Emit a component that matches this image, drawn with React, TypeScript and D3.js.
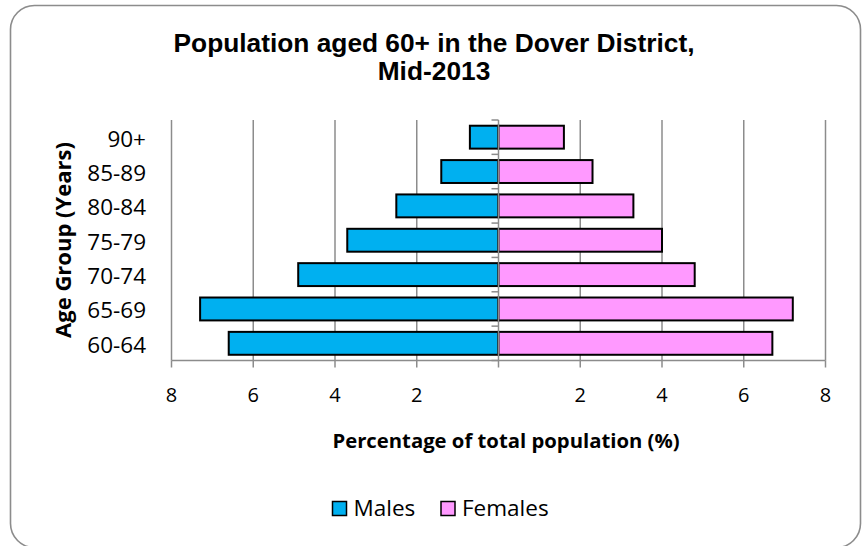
import React from "react";
import * as d3 from "d3";

const categories = ["60-64", "65-69", "70-74", "75-79", "80-84", "85-89", "90+"];
const males = [6.6, 7.3, 4.9, 3.7, 2.5, 1.4, 0.7];
const females = [6.7, 7.2, 4.8, 4.0, 3.3, 2.3, 1.6];
const xTicks = [-8, -6, -4, -2, 0, 2, 4, 6, 8];
const seriesNames = ["Males", "Females"];
const seriesColors = ["#00B0F0", "#FF99FF"];

const W = 867;
const H = 546;
const plotLeft = 171.5;
const plotRight = 825.5;
const plotTop = 120;
const plotBottom = 360.5;
const labelFont = "'Open Sans', sans-serif";

export default function App() {
  const x = d3.scaleLinear().domain([-8, 8]).range([plotLeft, plotRight]);
  const y = d3
    .scaleBand<string>()
    .domain([...categories].reverse())
    .range([plotTop, plotBottom])
    .padding(0);
  const step = y.step();
  const barH = step / 1.5;
  const cx = x(0);

  return (
    <svg
      width={W}
      height={H}
      style={{ position: "absolute", left: 0, top: 0, background: "#fff" }}
    >
      <rect
        x={10.5}
        y={5.5}
        width={850}
        height={542}
        rx={24}
        ry={24}
        fill="#fff"
        stroke="#8c8c8c"
        strokeWidth={1.6}
      />
      <text
        x={434}
        y={52}
        textAnchor="middle"
        fontFamily="'Liberation Sans', Arial, sans-serif"
        fontWeight="bold"
        fontSize={26.3}
        fill="#000"
      >
        Population aged 60+ in the Dover District,
      </text>
      <text
        x={434}
        y={80}
        textAnchor="middle"
        fontFamily="'Liberation Sans', Arial, sans-serif"
        fontWeight="bold"
        fontSize={26.3}
        fill="#000"
      >
        Mid-2013
      </text>

      {/* gridlines */}
      {xTicks
        .filter((t) => t !== 0)
        .map((t) => (
          <line
            key={"g" + t}
            x1={x(t)}
            x2={x(t)}
            y1={plotTop}
            y2={plotBottom}
            stroke="#8c8c8c"
            strokeWidth={1.5}
          />
        ))}

      {/* bars */}
      {categories.map((c, i) => {
        const yy = (y(c) as number) + (step - barH) / 2;
        return (
          <g key={c}>
            <rect
              x={x(-males[i])}
              y={yy}
              width={cx - x(-males[i])}
              height={barH}
              fill={seriesColors[0]}
              stroke="#000"
              strokeWidth={2}
            />
            <rect
              x={cx}
              y={yy}
              width={x(females[i]) - cx}
              height={barH}
              fill={seriesColors[1]}
              stroke="#000"
              strokeWidth={2}
            />
          </g>
        );
      })}

      {/* center category axis */}
      <line x1={cx} x2={cx} y1={plotTop} y2={plotBottom} stroke="#8c8c8c" strokeWidth={1.5} />
      {d3.range(categories.length + 1).map((k) => (
        <line
          key={"ct" + k}
          x1={cx - 7}
          x2={cx}
          y1={plotTop + k * step}
          y2={plotTop + k * step}
          stroke="#8c8c8c"
          strokeWidth={1.5}
        />
      ))}

      {/* bottom value axis */}
      <line x1={plotLeft} x2={plotRight} y1={plotBottom} y2={plotBottom} stroke="#8c8c8c" strokeWidth={1.5} />
      {xTicks.map((t) => (
        <line
          key={"t" + t}
          x1={x(t)}
          x2={x(t)}
          y1={plotBottom}
          y2={plotBottom + 7}
          stroke="#8c8c8c"
          strokeWidth={1.5}
        />
      ))}
      {xTicks
        .filter((t) => t !== 0)
        .map((t) => (
          <text
            key={"l" + t}
            x={x(t)}
            y={402}
            textAnchor="middle"
            fontFamily={labelFont}
            fontSize={20}
            fill="#000"
          >
            {Math.abs(t)}
          </text>
        ))}

      {/* category labels */}
      {categories.map((c) => (
        <text
          key={"cl" + c}
          x={146}
          y={(y(c) as number) + step / 2}
          dy="0.42em"
          textAnchor="end"
          fontFamily={labelFont}
          fontSize={22.5}
          fill="#000"
        >
          {c}
        </text>
      ))}

      {/* axis titles */}
      <text
        x={506}
        y={448}
        textAnchor="middle"
        fontFamily={labelFont}
        fontWeight="bold"
        fontSize={20.3}
        fill="#000"
      >
        Percentage of total population (%)
      </text>
      <text
        transform={`translate(71,240) rotate(-90)`}
        textAnchor="middle"
        fontFamily={labelFont}
        fontWeight="bold"
        fontSize={22}
        fill="#000"
      >
        Age Group (Years)
      </text>

      {/* legend */}
      {seriesNames.map((s, i) => {
        const lx = [332.5, 441][i];
        return (
          <g key={s}>
            <rect x={lx} y={501.5} width={14} height={14} fill={seriesColors[i]} stroke="#000" strokeWidth={1.5} />
            <text x={lx + 21} y={516} fontFamily={labelFont} fontSize={22.5} fill="#000">
              {s}
            </text>
          </g>
        );
      })}
    </svg>
  );
}
